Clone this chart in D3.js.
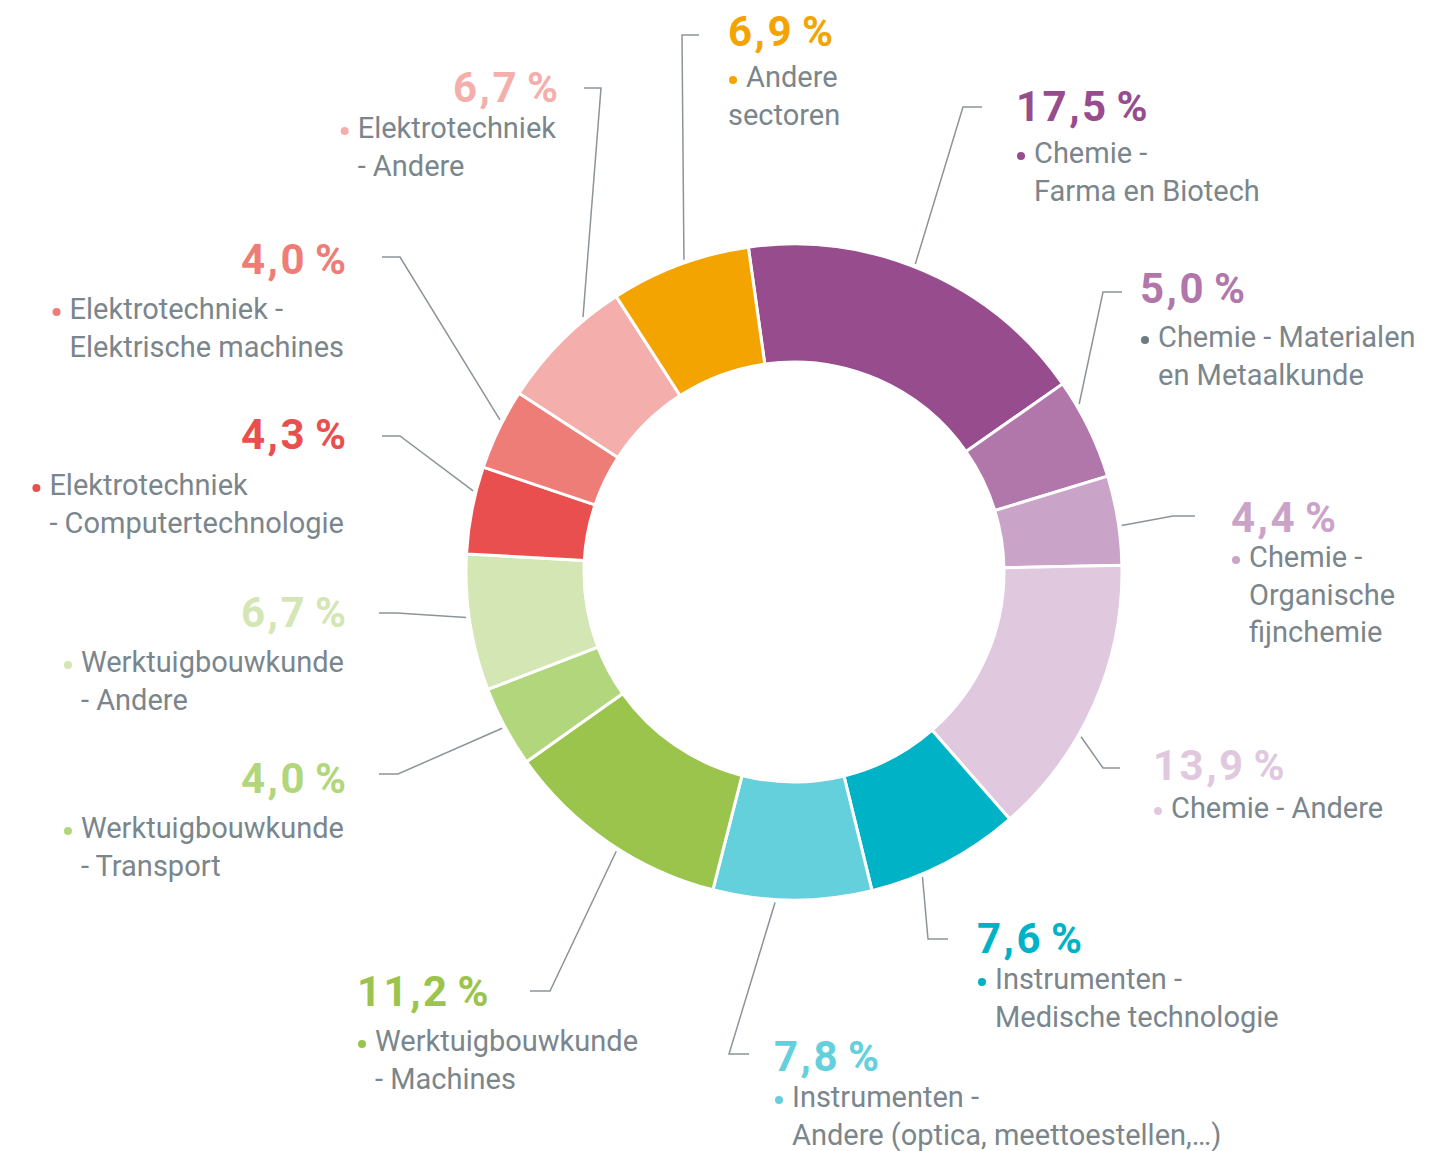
<!DOCTYPE html>
<html>
<head>
<meta charset="utf-8">
<script src="https://cdn.jsdelivr.net/npm/d3@7"></script>
<style>
  body { margin: 0; background: #fff; }
  .val { font-family: Roboto, sans-serif; font-weight: 700; font-size: 42px; letter-spacing: 2.5px; word-spacing: -5px; }
  .lbl { font-family: Roboto, sans-serif; font-size: 29px; fill: #7b868c; }
  .leader { fill: none; stroke: #8c9499; stroke-width: 1.5; }
</style>
</head>
<body>
<div id="chart"></div>
<script>
// sectors, clockwise from the top
var sectors = ["Chemie - Farma en Biotech", "Chemie - Materialen en Metaalkunde",
  "Chemie - Organische fijnchemie", "Chemie - Andere",
  "Instrumenten - Medische technologie", "Instrumenten - Andere",
  "Werktuigbouwkunde - Machines", "Werktuigbouwkunde - Transport",
  "Werktuigbouwkunde - Andere", "Elektrotechniek - Computertechnologie",
  "Elektrotechniek - Elektrische machines", "Elektrotechniek - Andere", "Andere sectoren"];
var labelLines = [
  ["Chemie -", "Farma en Biotech"],
  ["Chemie - Materialen", "en Metaalkunde"],
  ["Chemie -", "Organische", "fijnchemie"],
  ["Chemie - Andere"],
  ["Instrumenten -", "Medische technologie"],
  ["Instrumenten -", "Andere (optica, meettoestellen,…)"],
  ["Werktuigbouwkunde", "- Machines"],
  ["Werktuigbouwkunde", "- Transport"],
  ["Werktuigbouwkunde", "- Andere"],
  ["Elektrotechniek", "- Computertechnologie"],
  ["Elektrotechniek -", "Elektrische machines"],
  ["Elektrotechniek", "- Andere"],
  ["Andere", "sectoren"]
];
var shares = [17.5, 5.0, 4.4, 13.9, 7.6, 7.8, 11.2, 4.0, 6.7, 4.3, 4.0, 6.7, 6.9];
var colors = ["#974c8d", "#b177aa", "#caa4c8", "#e0c8df", "#00b2c6", "#63d0dc",
  "#9ac44c", "#b2d67c", "#d4e6b4", "#e84f4e", "#ee7d77", "#f4afac", "#f4a401"];

// label placement (hand laid out like the original)
var layout = [
  {vx: 1016, vy: 121, anchor: "start", ly: 163, elbow: [963, 107], endX: 982, nudge: -2},
  {vx: 1140, vy: 303, anchor: "start", ly: 347, elbow: [1103, 292], endX: 1122, nudge: -4.5, grayBullet: true},
  {vx: 1231, vy: 532, anchor: "start", ly: 567, elbow: [1173, 516], endX: 1195, nudge: 1},
  {vx: 1153, vy: 780, anchor: "start", ly: 818, elbow: [1103, 768], endX: 1120, nudge: 6},
  {vx: 977, vy: 953, anchor: "start", ly: 989, elbow: [928, 939], endX: 948, nudge: 4.6},
  {vx: 774, vy: 1071, anchor: "start", ly: 1107, elbow: [729, 1054], endX: 749, nudge: 3},
  {vx: 357, vy: 1006, anchor: "start", ly: 1051, elbow: [550, 991], endX: 530, nudge: -2},
  {vx: 346, vy: 793, anchor: "end", ly: 838, elbow: [398, 774], endX: 379, nudge: 0},
  {vx: 346, vy: 627, anchor: "end", ly: 672, elbow: [397, 613], endX: 379, nudge: 1},
  {vx: 346, vy: 449, anchor: "end", ly: 495, elbow: [400, 436], endX: 382, nudge: 3.3},
  {vx: 346, vy: 274, anchor: "end", ly: 319, elbow: [400, 257], endX: 382, nudge: 1.5},
  {vx: 558, vy: 102, anchor: "end", ly: 138, elbow: [601, 88], endX: 584, nudge: 5.3},
  {vx: 728, vy: 46, anchor: "start", ly: 87, elbow: [682, 35], endX: 699, nudge: 1, hang: false}
];

var W = 1436, H = 1151;
var cx = 794, cy = 572, rOuter = 328, rInner = 210;
var lineH = 37.5;
var startDeg = -8;

var nl = d3.formatLocale({decimal: ",", thousands: ".", grouping: [3], currency: ["", " €"]});
var fmt = nl.format(".1f");

var svg = d3.select("#chart").append("svg")
    .attr("width", W)
    .attr("height", H);

var rad = Math.PI / 180;
var pie = d3.pie().sort(null).value(function(d){ return d; })
    .startAngle(startDeg * rad).endAngle((startDeg + 360) * rad);
var arcs = pie(shares);

var arc = d3.arc().innerRadius(rInner).outerRadius(rOuter);

// leader lines
svg.append("g").selectAll("path")
    .data(arcs)
    .enter().append("path")
    .attr("class", "leader")
    .attr("d", function(d, i){
      var L = layout[i];
      var a = (d.startAngle + d.endAngle) / 2 + L.nudge * rad;
      var r = rOuter + 3;
      var p0 = [cx + r * Math.sin(a), cy - r * Math.cos(a)];
      return "M" + p0 + "L" + L.elbow + "L" + [L.endX, L.elbow[1]];
    });

// donut
svg.append("g")
    .attr("transform", "translate(" + cx + "," + cy + ")")
    .selectAll("path")
    .data(arcs)
    .enter().append("path")
    .attr("d", arc)
    .attr("fill", function(d, i){ return colors[i]; })
    .attr("stroke", "#fff")
    .attr("stroke-width", 3)
    .attr("stroke-linejoin", "miter");

// labels
var gl = svg.append("g");
sectors.forEach(function(name, i){
  var L = layout[i];
  var g = gl.append("g").attr("class", "label");
  g.append("text")
      .attr("class", "val")
      .attr("x", L.anchor === "end" ? L.vx + 2.5 : L.vx)
      .attr("y", L.vy)
      .attr("text-anchor", L.anchor)
      .attr("fill", colors[i])
      .text(fmt(shares[i]) + " %");

  var lines = labelLines[i];
  var texts = lines.map(function(s, j){
    return g.append("text")
        .attr("class", "lbl")
        .attr("y", L.ly + j * lineH)
        .text(s);
  });

  var tx;
  if (L.anchor === "start") {
    tx = L.vx + 18;
  } else {
    var maxW = d3.max(texts, function(t){ return t.node().getComputedTextLength(); });
    tx = L.vx - 2 - maxW;
  }
  texts.forEach(function(t, j){
    var x = tx;
    if (L.hang === false && j > 0) x = tx - 18;
    t.attr("x", x);
  });
  g.append("circle")
      .attr("cx", tx - 13)
      .attr("cy", L.ly - 7)
      .attr("r", 4)
      .attr("fill", L.grayBullet ? "#6f7b80" : colors[i]);
});
</script>
</body>
</html>
